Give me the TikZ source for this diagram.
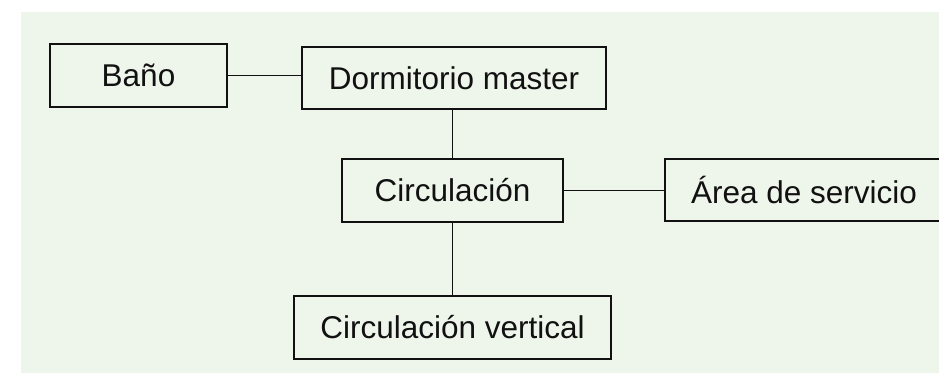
\documentclass[tikz,border=0pt]{standalone}
\usepackage{fontspec}
\setmainfont{Liberation Sans}
\usepackage{xcolor}
\usetikzlibrary{positioning,calc}
\definecolor{ink}    {HTML}{111111}
\definecolor{paleBg} {HTML}{EEF6EB}
\begin{document}
\begin{tikzpicture}[
  x=1pt, y=-1pt,
  room/.style={rectangle, draw=ink, line width=1.2pt, fill=paleBg, inner sep=0pt,
               font=\fontsize{31.5}{36}\selectfont, text=ink, align=center},
  link/.style={draw=ink, line width=1.2pt}
]
\useasboundingbox (0,0) rectangle (939,373);
\fill[paleBg] (21,12) rectangle (939,373);
\node[room, minimum width=177pt, minimum height=63pt] (banio) at (138.5,75.5) {Baño};
\node[room, minimum width=304pt, minimum height=62pt] (dorm) at (454,78) {Dormitorio master};
\node[room, minimum width=221pt, minimum height=63pt] (circ) at (452.5,190.5) {Circulación};
\node[room, minimum width=278pt, minimum height=62pt] (serv) at (804,190) {Área de servicio};
\node[room, minimum width=317pt, minimum height=63pt] (vert) at (452.5,327.5) {Circulación vertical};
\draw[link] (banio.east) -- (banio.east -| dorm.west);
\draw[link] (dorm.south -| circ.north) -- (circ.north);
\draw[link] (circ.east) -- (circ.east -| serv.west);
\draw[link] (circ.south) -- (vert.north);
\end{tikzpicture}
\end{document}
